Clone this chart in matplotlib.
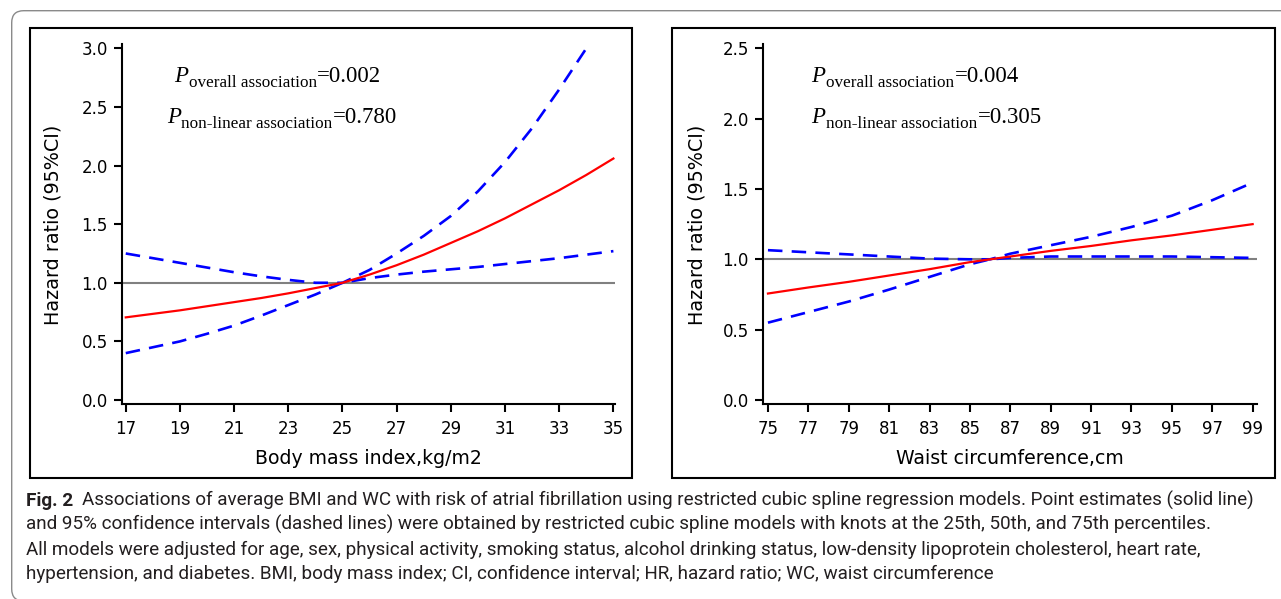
import matplotlib
matplotlib.use("Agg")
import matplotlib.pyplot as plt
from matplotlib.patches import Rectangle, FancyBboxPatch
from matplotlib.transforms import IdentityTransform

# ---------------- data ----------------
bmi = [17, 18, 19, 20, 21, 22, 23, 24, 25, 26, 27, 28, 29, 30, 31, 32, 33, 34, 35]
bmi_hr = [0.705, 0.735, 0.765, 0.80, 0.835, 0.87, 0.91, 0.955, 1.0, 1.07, 1.15,
          1.24, 1.34, 1.44, 1.55, 1.67, 1.79, 1.92, 2.06]
bmi_upper = [1.25, 1.21, 1.17, 1.13, 1.09, 1.055, 1.025, 1.0, 1.0, 1.11, 1.25,
             1.40, 1.57, 1.78, 2.03, 2.32, 2.65, 3.0, 3.42]
bmi_lower = [0.40, 0.45, 0.50, 0.565, 0.635, 0.72, 0.81, 0.90, 1.0, 1.04, 1.07,
             1.095, 1.115, 1.135, 1.16, 1.185, 1.21, 1.24, 1.27]
bmi_xticks = [17, 19, 21, 23, 25, 27, 29, 31, 33, 35]
bmi_yticks = [0.0, 0.5, 1.0, 1.5, 2.0, 2.5, 3.0]

wc = [75, 77, 79, 81, 83, 85, 86, 87, 89, 91, 93, 95, 97, 99]
wc_hr = [0.757, 0.80, 0.84, 0.885, 0.93, 0.98, 1.0, 1.02, 1.06, 1.095, 1.135,
         1.17, 1.21, 1.25]
wc_upper = [1.065, 1.05, 1.035, 1.02, 1.005, 1.0, 1.0, 1.04, 1.10, 1.16, 1.23,
            1.31, 1.42, 1.545]
wc_lower = [0.55, 0.625, 0.70, 0.785, 0.875, 0.965, 1.0, 1.01, 1.02, 1.02, 1.02,
            1.02, 1.015, 1.01]
wc_xticks = [75, 77, 79, 81, 83, 85, 87, 89, 91, 93, 95, 97, 99]
wc_yticks = [0.0, 0.5, 1.0, 1.5, 2.0, 2.5]

ylabel = "Hazard ratio (95%CI)"
bmi_xlabel = "Body mass index,kg/m2"
wc_xlabel = "Waist circumference,cm"
bmi_p = ["0.002", "0.780"]
wc_p = ["0.004", "0.305"]
p_subs = ["overall association", "non-linear association"]

caption_fig = "Fig. 2"
caption_lines = [
    "Associations of average BMI and WC with risk of atrial fibrillation using restricted cubic spline regression models. Point estimates (solid line)",
    "and 95% confidence intervals (dashed lines) were obtained by restricted cubic spline models with knots at the 25th, 50th, and 75th percentiles.",
    "All models were adjusted for age, sex, physical activity, smoking status, alcohol drinking status, low-density lipoprotein cholesterol, heart rate,",
    "hypertension, and diabetes. BMI, body mass index; CI, confidence interval; HR, hazard ratio; WC, waist circumference",
]

# ---------------- figure ----------------
W, H = 1281, 599
fig = plt.figure(figsize=(W / 100, H / 100), dpi=100)
fig.patch.set_facecolor("white")

SANS = ["DejaVu Sans"]
SERIF = ["Liberation Serif", "DejaVu Serif"]
CAP = ["Roboto", "Open Sans", "DejaVu Sans"]


def add_axes_px(left, right, top, bottom):
    return fig.add_axes([left / W, 1 - bottom / H, (right - left) / W, (bottom - top) / H])


def draw_panel(ax, x, hr, up, lo, xlim, ylim, xticks, yticks):
    ax.axhline(1.0, color="#808080", lw=1.5, zorder=1)
    ax.plot(x, up, color="#0000ff", lw=1.9, dashes=(5.5, 3.5), zorder=2)
    ax.plot(x, lo, color="#0000ff", lw=1.9, dashes=(5.5, 3.5), zorder=2)
    ax.plot(x, hr, color="#ff0000", lw=1.6, zorder=3)
    ax.set_xlim(*xlim)
    ax.set_ylim(*ylim)
    ax.set_xticks(xticks)
    ax.set_yticks(yticks)
    ax.set_yticklabels([f"{v:.1f}" for v in yticks])
    for s in ("top", "right"):
        ax.spines[s].set_visible(False)
    for s in ("left", "bottom"):
        ax.spines[s].set_linewidth(1.5)
    ax.tick_params(direction="out", length=6, width=1.5, labelsize=12)
    ax.tick_params(axis="x", pad=5.2)
    ax.tick_params(axis="y", pad=4)
    for lab in ax.get_xticklabels() + ax.get_yticklabels():
        lab.set_family(SANS)
    ax.patch.set_alpha(0)


axL = add_axes_px(121.7, 615.3, 44, 404)
draw_panel(axL, bmi, bmi_hr, bmi_upper, bmi_lower, (16.85, 35.07), (-0.034, 3.037),
           bmi_xticks, bmi_yticks)
axR = add_axes_px(762.7, 1257.3, 44, 404)
draw_panel(axR, wc, wc_hr, wc_upper, wc_lower, (74.74, 99.23), (-0.028, 2.53),
           wc_xticks, wc_yticks)

# axis labels
fig.text((121.7 + 615.3) / 2 / W, 1 - 464 / H, bmi_xlabel, ha="center", va="baseline",
         fontsize=13.6, family=SANS)
fig.text((762.7 + 1257.3) / 2 / W, 1 - 464 / H, wc_xlabel, ha="center", va="baseline",
         fontsize=13.6, family=SANS)
fig.text(52.6 / W, 1 - 225 / H, ylabel, ha="center", va="center", rotation=90,
         fontsize=13.8, family=SANS)
fig.text(697 / W, 1 - 225 / H, ylabel, ha="center", va="center", rotation=90,
         fontsize=13.8, family=SANS)

# panel frames
for l, r in ((30, 632.3), (672.3, 1275)):
    fig.add_artist(Rectangle((l, H - 478.3), r - l, 478.3 - 28, transform=IdentityTransform(),
                             fill=False, edgecolor="black", lw=1.5))

# outer rounded frame
fig.add_artist(FancyBboxPatch((11.7, -2), 1400, H - 10.7 + 2,
                              boxstyle="round,pad=0,rounding_size=12",
                              transform=IdentityTransform(), fill=False,
                              edgecolor="#8a8a8a", lw=1.0))

fig.canvas.draw()
rend = fig.canvas.get_renderer()


def chain(x, y, parts):
    """parts: list of (text, kwargs, dy_px, gap_px_after)"""
    for s, kw, dy, gap in parts:
        t = fig.text(x / W, 1 - (y + dy) / H, s, ha="left", va="baseline", **kw)
        bb = t.get_window_extent(renderer=rend)
        x = bb.x1 + gap
    return x


def p_text(x, y, sub, val):
    chain(x, y, [
        ("P", dict(fontsize=16.5, family=SERIF, style="italic"), 0, 0.5),
        (sub, dict(fontsize=12.3, family=SERIF), 5, 0.3),
        ("=" + val, dict(fontsize=16.5, family=SERIF), 0, 0),
    ])


p_text(174, 81.7, p_subs[0], bmi_p[0])
p_text(166.7, 123.3, p_subs[1], bmi_p[1])
p_text(811.5, 81.7, p_subs[0], wc_p[0])
p_text(811.5, 123.3, p_subs[1], wc_p[1])

# caption: fit first line width to reference
cap_color = "#231f20"
x0, target_right = 26, 1262
baselines = [505.7, 530.2, 554.7, 579.2]
size = 11.4
gap = 9
tf = fig.text(x0 / W, 1 - baselines[0] / H, caption_fig, ha="left", va="baseline",
              fontsize=size, family=CAP, weight="bold", color=cap_color)
t1 = fig.text(0, 1 - baselines[0] / H, caption_lines[0], ha="left", va="baseline",
              fontsize=size, family=CAP, color=cap_color)
for _ in range(3):
    wf = tf.get_window_extent(renderer=rend).width
    w1 = t1.get_window_extent(renderer=rend).width
    size = size * (target_right - x0 - gap) / (wf + w1)
    tf.set_fontsize(size)
    t1.set_fontsize(size)
wf = tf.get_window_extent(renderer=rend).width
t1.set_x((x0 + wf + gap) / W)
for line, yb in zip(caption_lines[1:], baselines[1:]):
    fig.text(x0 / W, 1 - yb / H, line, ha="left", va="baseline", fontsize=size,
             family=CAP, color=cap_color)

fig.savefig("out.png", dpi=100, facecolor="white")
